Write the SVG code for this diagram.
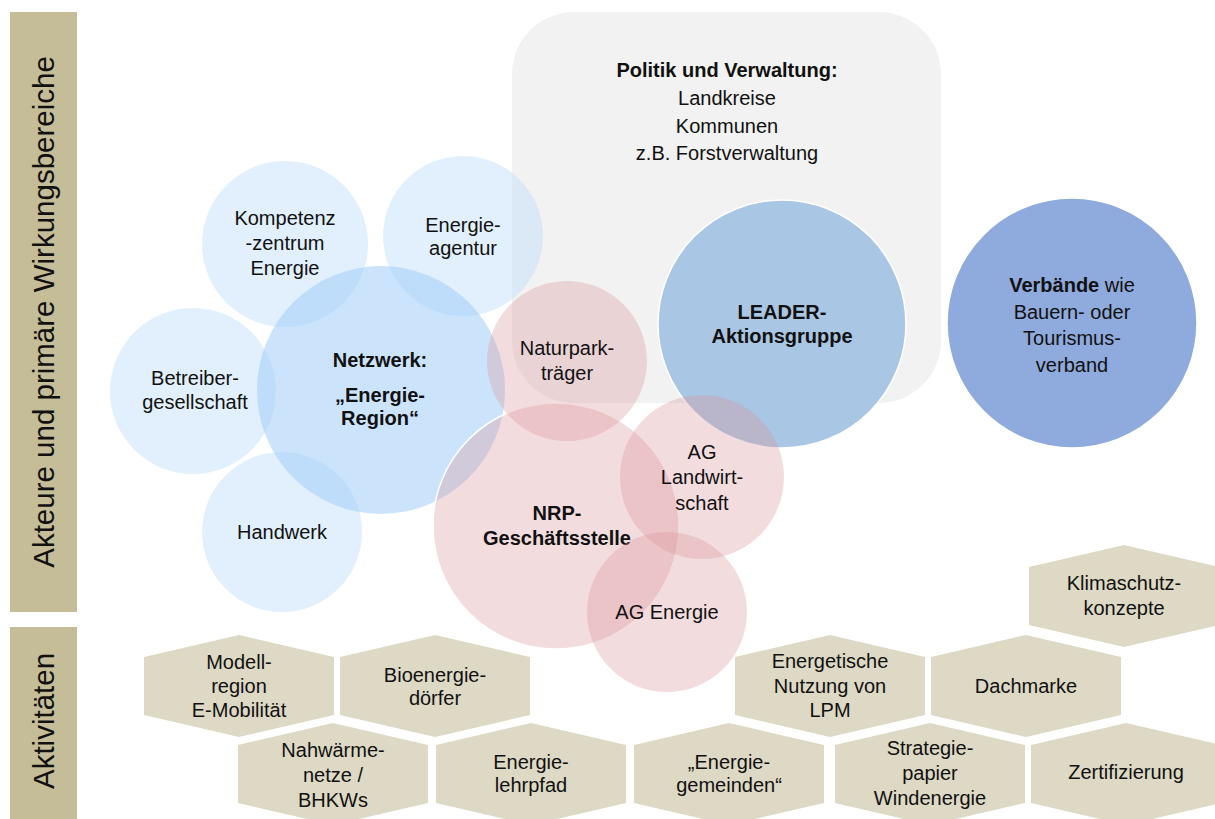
<svg xmlns="http://www.w3.org/2000/svg" width="1215" height="819" viewBox="0 0 1215 819">
<style>
text{font-family:"Liberation Sans",Arial,sans-serif;font-size:20px;fill:#111;text-anchor:middle}
.b{font-weight:bold}
.side{fill:#C4BD97}
.sidet{font-size:29.5px}
.hex{fill:#DDD9C4}
.lb{fill:rgb(189,222,249);fill-opacity:0.45}
.nb{fill:rgb(160,205,248);fill-opacity:0.55}
.pk{fill:rgb(220,150,155);fill-opacity:0.33}
.pks{fill:rgb(220,150,155);fill-opacity:0.33;stroke:#fff;stroke-width:1.5}
.ld{fill:#A9C6E4;stroke:#fff;stroke-width:1.5}
.vb{fill:#8FAADC;stroke:#fff;stroke-width:1.5}
</style>
<defs>
<polygon id="hx" points="-95,-29 0,-51 95,-29 95,29 0,51 -95,29"/>
</defs>
<rect width="1215" height="819" fill="#fff"/>

<g id="sidebar-akteure">
<rect class="side" x="10" y="12" width="67" height="600"/>
<text class="sidet" transform="translate(54,312) rotate(-90)">Akteure und primäre Wirkungsbereiche</text>
</g>
<g id="sidebar-aktivitaeten">
<rect class="side" x="10" y="627" width="67" height="192"/>
<text class="sidet" transform="translate(54,721) rotate(-90)">Aktivitäten</text>
</g>

<g id="politik">
<rect x="512" y="12" width="429" height="391" rx="62" fill="#F2F2F2"/>
<text x="727" y="77" class="b">Politik und Verwaltung:</text>
<text x="727" y="105">Landkreise</text>
<text x="727" y="133">Kommunen</text>
<text x="727" y="160">z.B. Forstverwaltung</text>
</g>

<g id="kompetenzzentrum">
<circle class="lb" cx="285" cy="244" r="83"/>
<text x="285" y="225">Kompetenz</text>
<text x="285" y="250">-zentrum</text>
<text x="285" y="275">Energie</text>
</g>
<g id="energieagentur">
<circle class="lb" cx="463" cy="236" r="80"/>
<text x="463" y="232">Energie-</text>
<text x="463" y="255">agentur</text>
</g>
<g id="betreibergesellschaft">
<circle class="lb" cx="193" cy="391" r="83"/>
<text x="195" y="385">Betreiber-</text>
<text x="195" y="409">gesellschaft</text>
</g>
<g id="handwerk">
<circle class="lb" cx="282" cy="532" r="80"/>
<text x="282" y="539">Handwerk</text>
</g>
<g id="netzwerk">
<circle class="nb" cx="381" cy="390" r="124"/>
<text x="380" y="367" class="b">Netzwerk:</text>
<text x="380" y="402" class="b">„Energie-</text>
<text x="380" y="425" class="b">Region“</text>
</g>

<g id="leader">
<circle class="ld" cx="782" cy="324" r="124"/>
<text x="782" y="319" class="b">LEADER-</text>
<text x="782" y="343" class="b">Aktionsgruppe</text>
</g>

<g id="nrp">
<circle class="pks" cx="556" cy="526" r="123"/>
<text x="557" y="520" class="b">NRP-</text>
<text x="557" y="545" class="b">Geschäftsstelle</text>
</g>
<g id="naturpark">
<circle class="pk" cx="567" cy="361" r="80"/>
<text x="567" y="355">Naturpark-</text>
<text x="567" y="380">träger</text>
</g>
<g id="ag-landwirtschaft">
<circle class="pk" cx="702" cy="477" r="82"/>
<text x="702" y="459">AG</text>
<text x="702" y="484">Landwirt-</text>
<text x="702" y="510">schaft</text>
</g>
<g id="ag-energie">
<circle class="pk" cx="667" cy="612" r="80"/>
<text x="667" y="619">AG Energie</text>
</g>

<g id="verbaende">
<circle class="vb" cx="1072" cy="323" r="125"/>
<text x="1072" y="292"><tspan class="b">Verbände</tspan> wie</text>
<text x="1072" y="319">Bauern- oder</text>
<text x="1072" y="345">Tourismus-</text>
<text x="1072" y="372">verband</text>
</g>

<g id="hex-modellregion">
<use href="#hx" class="hex" x="239" y="686"/>
<text x="239" y="669">Modell-</text>
<text x="239" y="693">region</text>
<text x="239" y="717">E-Mobilität</text>
</g>
<g id="hex-bioenergie">
<use href="#hx" class="hex" x="435" y="686"/>
<text x="435" y="682">Bioenergie-</text>
<text x="435" y="705">dörfer</text>
</g>
<g id="hex-energetische">
<use href="#hx" class="hex" x="830" y="686"/>
<text x="830" y="668">Energetische</text>
<text x="830" y="693">Nutzung von</text>
<text x="830" y="717">LPM</text>
</g>
<g id="hex-dachmarke">
<use href="#hx" class="hex" x="1026" y="686"/>
<text x="1026" y="693">Dachmarke</text>
</g>
<g id="hex-klimaschutz">
<use href="#hx" class="hex" x="1124" y="596"/>
<text x="1124" y="590">Klimaschutz-</text>
<text x="1124" y="615">konzepte</text>
</g>
<g id="hex-nahwaerme">
<use href="#hx" class="hex" x="333" y="774"/>
<text x="333" y="757">Nahwärme-</text>
<text x="333" y="782">netze /</text>
<text x="333" y="807">BHKWs</text>
</g>
<g id="hex-lehrpfad">
<use href="#hx" class="hex" x="531" y="774"/>
<text x="531" y="769">Energie-</text>
<text x="531" y="792">lehrpfad</text>
</g>
<g id="hex-gemeinden">
<use href="#hx" class="hex" x="729" y="774"/>
<text x="729" y="769">„Energie-</text>
<text x="729" y="792">gemeinden“</text>
</g>
<g id="hex-strategiepapier">
<use href="#hx" class="hex" x="930" y="774"/>
<text x="930" y="755">Strategie-</text>
<text x="930" y="780">papier</text>
<text x="930" y="805">Windenergie</text>
</g>
<g id="hex-zertifizierung">
<use href="#hx" class="hex" x="1126" y="774"/>
<text x="1126" y="779">Zertifizierung</text>
</g>

<g id="connectors"/>
</svg>
